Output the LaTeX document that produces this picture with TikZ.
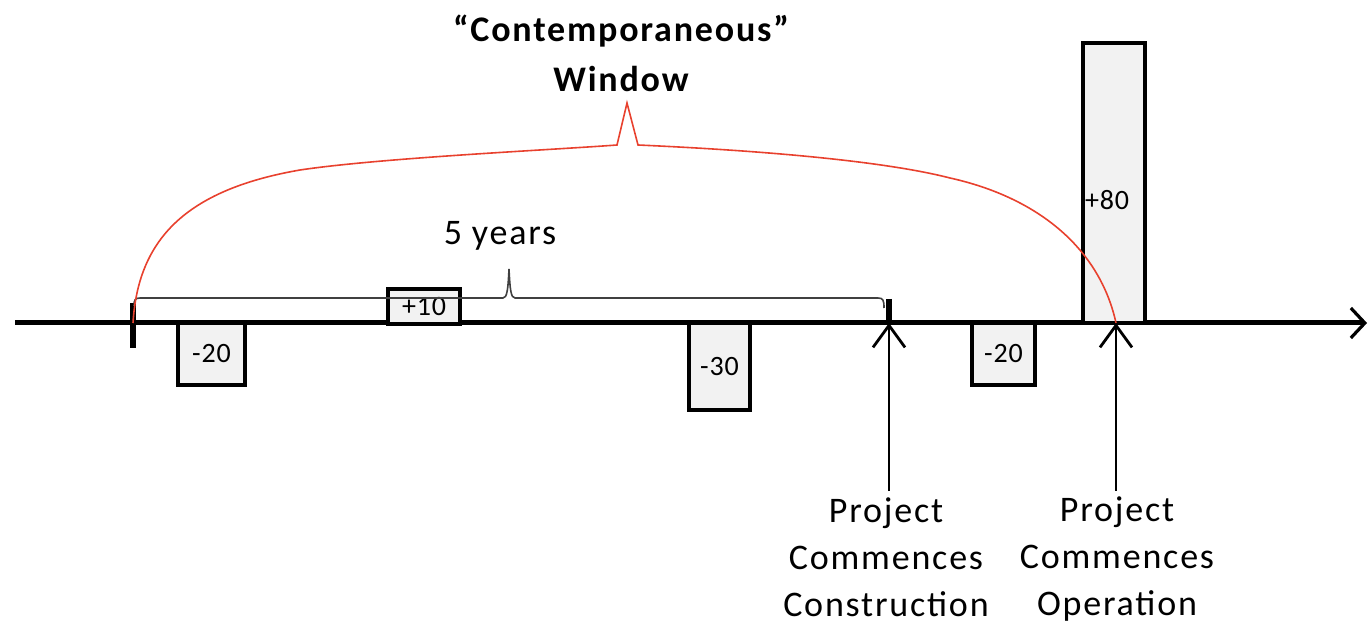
\documentclass[tikz,border=0pt]{standalone}
\usepackage{fontspec}
\setmainfont{Carlito}
\usetikzlibrary{arrows.meta}
\definecolor{boxfill}{HTML}{F2F2F2}
\definecolor{braceRed}{HTML}{E8412E}
\definecolor{thinGray}{HTML}{404040}
\begin{document}
\begin{tikzpicture}[x=0.5pt,y=-0.5pt,
  bar/.style={draw=black, line width=2pt, fill=boxfill, inner sep=0pt, font=\fontsize{14}{16}\selectfont\addfontfeatures{LetterSpace=3}},
  axisline/.style={line width=2.5pt, -{Straight Barb[length=7pt,width=15pt,line width=1.6pt]}},
  tickmark/.style={line width=2.6pt},
  uparrow/.style={line width=1.4pt, -{Straight Barb[length=11pt,width=16pt,line width=1.4pt]}},
  redbrace/.style={draw=braceRed, line width=0.8pt},
  yearbrace/.style={draw=thinGray, line width=0.8pt},
  bigtext/.style={font=\fontsize{18}{23.5}\selectfont\addfontfeatures{LetterSpace=5}, align=center, inner sep=1pt},
]
\useasboundingbox (0,0) rectangle (1369,624);

% axis
\coordinate (axL) at (15,323);
\coordinate (axR) at (1367,323);
\draw[axisline] (axL) -- (axR);

% ticks
\draw[tickmark] (133,303) -- (133,348);
\draw[tickmark] (889,299) -- (889,323);
\draw[tickmark] (1115,312) -- (1115,323);

% bars
\node[bar, minimum width=33.5pt, minimum height=31pt] (m20a) at (211.5,354) {-20};
\node[bar, minimum width=36pt, minimum height=17.5pt] (p10) at (424,306.5) {+10};
\node[bar, minimum width=30.5pt, minimum height=43.5pt] (m30) at (719.5,366.5) {-30};
\node[bar, minimum width=31.5pt, minimum height=31pt] (m20b) at (1003.5,354) {-20};
\node[bar, minimum width=31pt, minimum height=140pt] (p80) at (1114,183) {};
\node[font=\fontsize{14}{16}\selectfont\addfontfeatures{LetterSpace=3}, inner sep=0pt] (p80t) at (1107,200) {+80};

% 5 years bracket
\draw[yearbrace] (134,306) .. controls (134,300) and (135,298) .. (140,298)
  -- (503,298) .. controls (507,298) and (508,290) .. (509,269)
  .. controls (510,290) and (511,298) .. (515,298)
  -- (878,298) .. controls (883,298) and (884,300) .. (884,308);
\node[bigtext] (fiveyears) at (500,236) {5 years};

% contemporaneous window brace
\draw[redbrace] (133,323) .. controls (138,240) and (185,190) .. (300,170)
  .. controls (380,158) and (550,150) .. (617,145)
  -- (627,103) -- (638,145)
  .. controls (750,150) and (880,160) .. (950,178)
  .. controls (1040,198) and (1100,250) .. (1116,323);
\node[bigtext, font=\fontsize{18}{25}\selectfont\bfseries\addfontfeatures{LetterSpace=5}] (title) at (621,53) {“Contemporaneous”\\Window};

% commencement arrows and labels
\coordinate (cons) at (889,323);
\coordinate (oper) at (1116,323);
\node[bigtext] (lcons) at (886,557) {Project\\Commences\\Construction};
\node[bigtext] (loper) at (1117,559.5) {Project\\Commences\\Operation};
\draw[uparrow] (lcons.north -| cons) ++(0,-4) -- (cons);
\draw[uparrow] (loper.north -| oper) ++(0,-4) -- (oper);
\end{tikzpicture}
\end{document}
